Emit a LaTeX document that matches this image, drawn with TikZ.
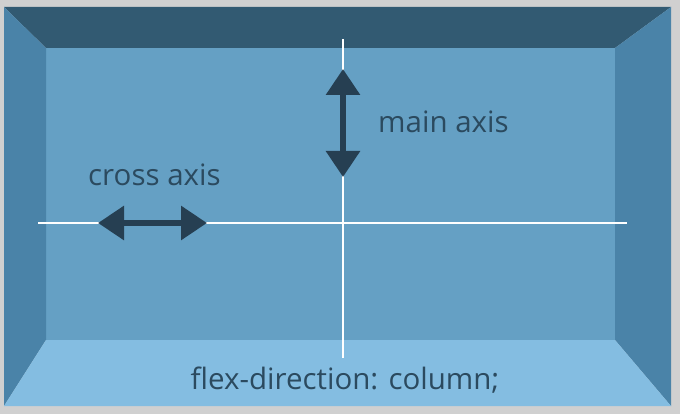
\documentclass[tikz,border=0pt]{standalone}
\usepackage{fontspec}
\setmainfont{Open Sans}
\usetikzlibrary{arrows.meta}
\definecolor{frame}{HTML}{D0D0D0}
\definecolor{topwall}{HTML}{325A72}
\definecolor{sidewall}{HTML}{4A83A8}
\definecolor{backwall}{HTML}{65A0C4}
\definecolor{floorwall}{HTML}{84BDE1}
\definecolor{ink}{HTML}{2B4A5F}
\definecolor{arrowink}{HTML}{263F52}
\tikzset{
	axislabel/.style={text=ink, font=\fontsize{29.5}{32}\selectfont, inner sep=0pt},
	guide/.style={white, line width=1.2pt},
	axisarrow/.style={arrowink, line width=6pt,
		{Triangle[width=33pt,length=26pt]}-{Triangle[width=33pt,length=26pt]}}
}
\begin{document}
\begin{tikzpicture}[x=1pt,y=-1pt]
	% Background
	\useasboundingbox [fill=frame] (0,0) rectangle (680,414);
	% Walls of the box
	\fill [backwall] (46,48) rectangle (615,340);
	\fill [topwall] (4,7) -- (671,7) -- (615,48) -- (46,48) -- cycle;
	\fill [sidewall] (4,7) -- (46,48) -- (46,340) -- (4,406) -- cycle;
	\fill [sidewall] (671,7) -- (615,48) -- (615,340) -- (671,406) -- cycle;
	\fill [floorwall] (46,340) -- (615,340) -- (671,406) -- (4,406) -- cycle;
	% Guide lines
	\coordinate (crossL) at (38,223);
	\coordinate (crossR) at (627,223);
	\coordinate (mainT) at (343,39);
	\coordinate (mainB) at (343,358);
	\draw [guide] (crossL) -- (crossR);
	\draw [guide] (mainT) -- (mainB);
	% Arrows
	\coordinate (mainup) at (343,69);
	\coordinate (maindown) at (343,177);
	\coordinate (crossleft) at (98,223);
	\coordinate (crossright) at (207,223);
	\draw [axisarrow] (mainup) -- (maindown);
	\draw [axisarrow] (crossleft) -- (crossright);
	% Labels
	\node (mainlabel) [axislabel, anchor=west] at (378,122) {main axis};
	\node (crosslabel) [axislabel, anchor=west] at (88,175) {cross\ axis};
	\node (dirlabel) [axislabel] at (345,380) {flex-direction: column;};
\end{tikzpicture}
\end{document}
